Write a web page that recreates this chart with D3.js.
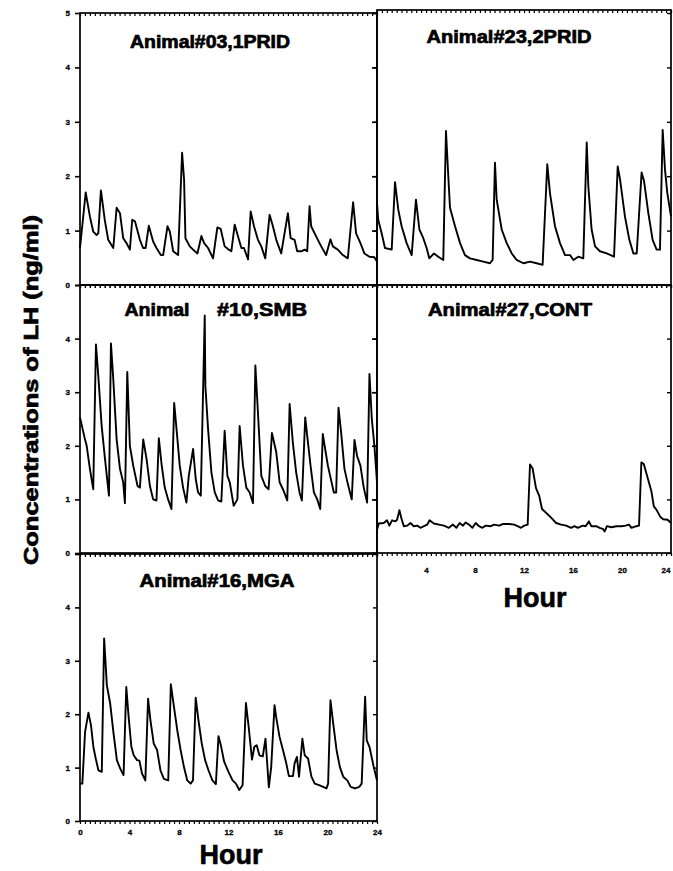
<!DOCTYPE html>
<html>
<head>
<meta charset="utf-8">
<script src="https://cdn.jsdelivr.net/npm/d3@7"></script>
<style>
  body { margin: 0; background: #fff; }
  svg { display: block; }
  text { font-family: "Liberation Sans", Arial, sans-serif; font-weight: bold; fill: #000; }
</style>
</head>
<body>
<div id="chart"></div>
<script>
// LH concentrations (ng/ml), [hour, value]
const prid03 = [[0,0.68],[0.46,1.70],[0.8,1.26],[1.07,0.98],[1.34,0.92],[1.48,0.95],[1.69,1.74],[2.0,1.2],[2.28,0.83],[2.69,0.68],[2.96,1.42],[3.23,1.32],[3.49,0.86],[3.76,0.77],[4.03,0.65],[4.22,1.2],[4.44,1.17],[4.84,0.83],[5.1,0.68],[5.3,0.68],[5.56,1.09],[5.91,0.8],[6.18,0.68],[6.53,0.55],[6.72,0.55],[7.07,1.08],[7.26,0.98],[7.53,0.62],[7.93,0.55],[8.25,2.43],[8.41,1.94],[8.52,0.86],[8.87,0.71],[9.14,0.65],[9.49,0.58],[9.81,0.9],[10.03,0.77],[10.35,0.68],[10.75,0.49],[11.1,1.06],[11.37,1.03],[11.69,0.71],[11.96,0.66],[12.23,0.62],[12.5,1.11],[12.77,0.89],[13.04,0.68],[13.25,0.68],[13.58,0.47],[13.79,1.35],[14.06,1.08],[14.38,0.83],[14.65,0.71],[14.97,0.49],[15.32,1.29],[15.59,1.08],[15.86,0.83],[16.26,0.58],[16.8,1.32],[17.02,0.86],[17.34,0.83],[17.55,0.62],[17.88,0.62],[18.15,0.65],[18.36,0.62],[18.55,1.45],[18.68,1.08],[19.09,0.89],[19.49,0.71],[19.89,0.55],[20.24,0.84],[20.43,0.71],[20.83,0.65],[21.24,0.55],[21.64,0.49],[22.07,1.52],[22.31,0.95],[22.66,0.77],[22.98,0.58],[23.39,0.52],[23.79,0.51],[24,0.43]];

const prid23 = [[0,1.51],[0.1,1.2],[0.38,0.95],[0.65,0.68],[1.2,0.65],[1.47,1.89],[1.74,1.38],[2.01,1.08],[2.42,0.77],[2.83,0.55],[3.18,1.57],[3.46,1.02],[3.78,0.86],[4.05,0.68],[4.27,0.49],[4.65,0.58],[5.0,0.52],[5.41,0.46],[5.63,2.83],[5.82,2.0],[5.96,1.42],[6.37,1.08],[6.78,0.77],[7.18,0.55],[7.59,0.49],[8.14,0.46],[8.68,0.43],[9.22,0.4],[9.44,0.46],[9.63,2.25],[9.77,1.57],[10.18,1.02],[10.59,0.77],[11.0,0.58],[11.4,0.46],[11.95,0.4],[12.49,0.43],[13.03,0.4],[13.52,0.37],[13.9,2.22],[14.12,1.69],[14.53,1.08],[14.94,0.77],[15.35,0.55],[15.76,0.55],[16.03,0.46],[16.43,0.52],[16.84,0.49],[17.12,2.62],[17.25,1.82],[17.52,1.02],[17.8,0.71],[18.2,0.62],[18.75,0.58],[19.35,0.52],[19.65,2.18],[19.84,1.94],[20.24,1.26],[20.6,0.83],[20.93,0.58],[21.2,0.58],[21.6,2.07],[21.8,1.91],[22.15,1.32],[22.5,0.83],[22.83,0.65],[23.1,0.65],[23.32,2.85],[23.51,2.12],[23.7,1.69],[24,1.26]];

const smb10 = [[0,2.53],[0.4,2.12],[0.54,2.0],[0.8,1.57],[1.07,1.19],[1.29,3.89],[1.48,3.3],[1.75,2.37],[2.02,1.75],[2.34,1.07],[2.5,3.91],[2.69,3.24],[2.96,2.12],[3.23,1.57],[3.49,1.32],[3.63,0.93],[3.82,3.38],[4.03,2.0],[4.3,1.63],[4.65,1.25],[4.84,1.22],[5.11,2.12],[5.38,1.75],[5.65,1.25],[5.91,1.0],[6.18,0.98],[6.37,2.14],[6.59,1.66],[6.85,1.22],[7.12,1.0],[7.39,0.82],[7.61,2.8],[7.8,2.31],[8.06,1.63],[8.33,1.22],[8.6,0.94],[8.79,1.44],[9.14,1.94],[9.35,1.38],[9.54,1.13],[9.76,1.07],[10.08,4.43],[10.13,3.12],[10.35,2.31],[10.62,1.5],[10.89,1.13],[11.16,0.98],[11.42,0.96],[11.69,2.28],[11.91,1.44],[12.1,1.32],[12.42,0.88],[12.72,1.0],[12.9,2.37],[13.17,1.63],[13.44,1.22],[13.71,1.13],[13.98,0.93],[14.17,3.5],[14.38,2.62],[14.65,1.44],[14.97,1.25],[15.24,1.19],[15.51,2.24],[15.86,1.88],[16.13,1.32],[16.4,1.19],[16.75,0.98],[16.94,2.78],[17.2,2.06],[17.47,1.5],[17.74,1.13],[17.93,0.98],[18.2,2.53],[18.36,2.19],[18.63,1.63],[18.9,1.13],[19.17,1.0],[19.41,0.82],[19.62,2.22],[19.81,1.94],[20.03,1.63],[20.3,1.35],[20.51,1.13],[20.7,1.13],[20.89,2.71],[21.1,2.25],[21.37,1.57],[21.64,1.29],[21.96,1.0],[22.18,2.11],[22.39,1.81],[22.66,1.63],[22.93,1.22],[23.2,0.94],[23.39,3.34],[23.58,2.5],[23.79,2.0],[24,1.32]];

const cont27 = [[0,0.43],[0.14,0.55],[0.55,0.56],[0.82,0.61],[1.01,0.51],[1.23,0.61],[1.5,0.59],[1.64,0.62],[1.83,0.8],[1.99,0.65],[2.19,0.5],[2.46,0.51],[2.73,0.56],[3.0,0.5],[3.28,0.51],[3.55,0.47],[3.83,0.5],[4.1,0.53],[4.29,0.61],[4.64,0.55],[5.05,0.53],[5.46,0.51],[5.87,0.47],[6.2,0.53],[6.48,0.47],[6.75,0.56],[7.02,0.51],[7.24,0.57],[7.51,0.53],[7.79,0.47],[8.06,0.56],[8.33,0.5],[8.6,0.47],[8.88,0.51],[9.29,0.5],[9.56,0.53],[9.97,0.51],[10.25,0.54],[10.79,0.54],[11.2,0.53],[11.48,0.5],[11.75,0.47],[12.02,0.51],[12.3,0.53],[12.49,1.65],[12.7,1.58],[12.98,1.21],[13.25,1.06],[13.47,0.82],[13.8,0.75],[14.21,0.66],[14.62,0.56],[15.03,0.53],[15.44,0.51],[15.85,0.47],[16.12,0.5],[16.39,0.47],[16.8,0.51],[17.03,0.5],[17.3,0.59],[17.49,0.5],[17.9,0.5],[18.17,0.47],[18.44,0.45],[18.58,0.4],[18.77,0.5],[19.13,0.48],[19.54,0.5],[19.95,0.5],[20.3,0.51],[20.57,0.53],[20.77,0.47],[21.17,0.5],[21.39,0.51],[21.58,1.69],[21.78,1.66],[22.13,1.37],[22.4,1.15],[22.6,0.87],[22.81,0.81],[23.14,0.67],[23.36,0.63],[23.72,0.62],[24,0.56]];

const mga16 = [[0,0.7],[0.19,0.7],[0.41,1.67],[0.68,2.03],[0.89,1.79],[1.08,1.39],[1.27,1.17],[1.49,0.95],[1.76,0.92],[1.95,3.42],[2.17,2.54],[2.44,2.2],[2.71,1.64],[2.98,1.14],[3.25,0.98],[3.52,0.86],[3.74,2.51],[3.93,1.95],[4.15,1.39],[4.34,1.23],[4.61,1.14],[4.8,1.13],[5.01,0.89],[5.28,0.76],[5.5,2.29],[5.69,1.89],[5.96,1.45],[6.23,1.33],[6.5,0.95],[6.78,0.79],[7.13,0.76],[7.34,2.56],[7.59,2.14],[7.86,1.7],[8.13,1.33],[8.4,1.01],[8.67,0.76],[8.94,0.7],[9.13,0.76],[9.35,2.31],[9.57,1.89],[9.84,1.45],[10.11,1.14],[10.38,0.95],[10.7,0.76],[10.98,0.69],[11.19,1.59],[11.38,1.42],[11.65,1.11],[12.0,0.92],[12.33,0.76],[12.6,0.7],[12.87,0.58],[13.14,0.67],[13.41,2.21],[13.63,1.76],[13.9,1.15],[14.09,1.39],[14.28,1.42],[14.5,1.23],[14.77,1.21],[14.99,1.54],[15.09,1.2],[15.26,0.63],[15.45,1.01],[15.72,2.17],[15.85,1.95],[16.12,1.58],[16.4,1.33],[16.67,1.08],[16.88,0.84],[17.21,0.84],[17.34,1.08],[17.53,1.2],[17.7,0.83],[17.97,1.54],[18.16,1.23],[18.43,1.17],[18.7,0.83],[18.97,0.7],[19.32,0.67],[19.65,0.64],[19.92,0.61],[20.05,0.7],[20.24,2.26],[20.46,1.83],[20.73,1.33],[21.0,1.01],[21.27,0.83],[21.6,0.76],[21.87,0.64],[22.22,0.61],[22.57,0.64],[22.76,0.7],[23.04,2.33],[23.17,1.51],[23.39,1.39],[23.71,1.04],[24,0.76]];

const hourTicks = [0, 4, 8, 12, 16, 20, 24];
const valueTicks = [0, 1, 2, 3, 4, 5];
const yLabel = "Concentrations of LH (ng/ml)";
const xLabel = "Hour";

const W = 673, H = 871;
const FONT = '"Liberation Sans", Arial, sans-serif';
const svg = d3.select("#chart").append("svg").attr("width", W).attr("height", H);

// two columns share the hour axis, three rows share the value axis
const xLeft = d3.scaleLinear().domain([0, 24]).range([80, 377]);
const xRight = d3.scaleLinear().domain([0, 24]).range([377, 671]);
const yRow = [
  d3.scaleLinear().domain([0, 5]).range([285, 13]),
  d3.scaleLinear().domain([0, 5]).range([553, 285]),
  d3.scaleLinear().domain([0, 5]).range([821, 554])
];

const panels = [
  { data: prid03, x: xLeft, y: yRow[0], title: ["Animal#03,1PRID"], tx: [210], ty: 48, tw: [160], labels: valueTicks },
  { data: prid23, x: xRight, y: yRow[0], title: ["Animal#23,2PRID"], tx: [509], ty: 43, tw: [165], top: 10 },
  { data: smb10, x: xLeft, y: yRow[1], title: ["Animal", "#10,SMB"], tx: [157, 262], ty: 316, tw: [65, 90], labels: valueTicks.slice(0, 5) },
  { data: cont27, x: xRight, y: yRow[1], title: ["Animal#27,CONT"], tx: [510], ty: 316, tw: [164], hours: hourTicks.slice(1), hourY: 574 },
  { data: mga16, x: xLeft, y: yRow[2], title: ["Animal#16,MGA"], tx: [217], ty: 587, tw: [155], labels: valueTicks.slice(0, 5), hours: hourTicks, hourY: 836 }
];

const line = d3.line().curve(d3.curveLinear);

panels.forEach(p => {
  const [x0, x1] = p.x.range();
  const [y0, y1] = p.y.range();
  const top = p.top || y1;
  const g = svg.append("g");

  // minor hour ticks hanging from top and bottom edges
  [top, y0].forEach(yy => {
    g.append("g")
      .attr("transform", `translate(0,${yy})`)
      .call(d3.axisBottom(p.x).tickValues(d3.range(0, 24.01, 0.4)).tickSize(3).tickFormat(""))
      .call(a => a.select(".domain").remove())
      .selectAll("line").attr("stroke-width", 1.2);
  });

  // value ticks on both sides
  g.append("g")
    .attr("transform", `translate(${x0},0)`)
    .call(d3.axisLeft(p.y).tickValues(valueTicks).tickSize(5).tickPadding(5)
      .tickFormat(d => (p.labels && p.labels.includes(d)) ? d : ""))
    .call(a => a.select(".domain").remove())
    .call(a => a.selectAll("line").attr("stroke-width", 1.6))
    .call(a => a.selectAll("text").style("font-size", "8px").style("font-weight", "bold")
      .style("font-family", FONT).attr("stroke", "#000").attr("stroke-width", 0.3));
  g.append("g")
    .attr("transform", `translate(${x1},0)`)
    .call(d3.axisLeft(p.y).tickValues(valueTicks).tickSize(4).tickFormat(""))
    .call(a => a.select(".domain").remove())
    .selectAll("line").attr("stroke-width", 1.4);

  // hour labels under the bottom panel of each column
  if (p.hours) {
    g.append("g")
      .attr("transform", `translate(0,${p.hourY - 7})`)
      .call(d3.axisBottom(p.x).tickValues(p.hours).tickSize(0).tickPadding(0))
      .call(a => a.select(".domain").remove())
      .call(a => a.selectAll("text").style("font-size", "8px").style("font-weight", "bold")
        .style("font-family", FONT).attr("stroke", "#000").attr("stroke-width", 0.3))
      .call(a => a.selectAll("text").filter(d => d === 24 && x1 > 600)
        .attr("text-anchor", "end").attr("dx", -1));
  }

  g.append("rect")
    .attr("x", x0).attr("y", top)
    .attr("width", x1 - x0).attr("height", y0 - top)
    .attr("fill", "none").attr("stroke", "#000").attr("stroke-width", 1.7);

  g.append("path")
    .attr("d", line(p.data.map(d => [p.x(d[0]), p.y(d[1])])))
    .attr("fill", "none").attr("stroke", "#000")
    .attr("stroke-width", 1.9).attr("stroke-linejoin", "round");

  p.title.forEach((t, i) => {
    g.append("text")
      .attr("x", p.tx[i]).attr("y", p.ty)
      .attr("text-anchor", "middle")
      .attr("textLength", p.tw[i]).attr("lengthAdjust", "spacingAndGlyphs")
      .attr("stroke", "#000").attr("stroke-width", 0.7)
      .style("font-size", "18px")
      .text(t);
  });
});

// axis titles
svg.append("text")
  .attr("transform", "translate(38,390) rotate(-90)")
  .attr("text-anchor", "middle")
  .attr("textLength", 350).attr("lengthAdjust", "spacingAndGlyphs")
  .attr("stroke", "#000").attr("stroke-width", 0.7)
  .style("font-size", "20px")
  .text(yLabel);

svg.append("text")
  .attr("x", 231).attr("y", 864)
  .attr("text-anchor", "middle")
  .attr("stroke", "#000").attr("stroke-width", 0.6)
  .style("font-size", "27px")
  .text(xLabel);

svg.append("text")
  .attr("x", 535).attr("y", 607)
  .attr("text-anchor", "middle")
  .attr("stroke", "#000").attr("stroke-width", 0.6)
  .style("font-size", "27px")
  .text(xLabel);
</script>
</body>
</html>
